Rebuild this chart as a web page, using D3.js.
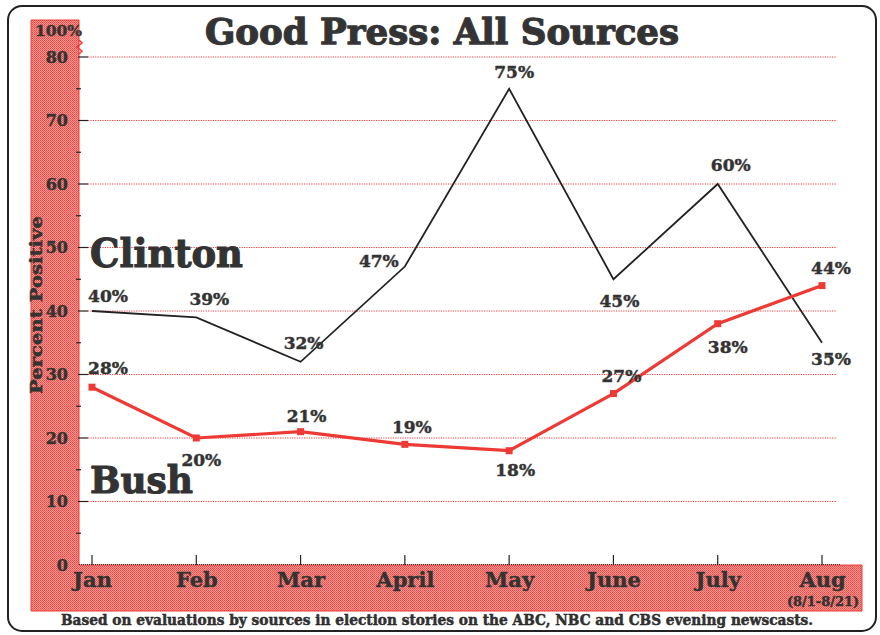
<!DOCTYPE html>
<html><head><meta charset="utf-8">
<script src="https://cdn.jsdelivr.net/npm/d3@7/dist/d3.min.js"></script>
<style>
html,body{margin:0;padding:0;background:#fff;}
svg{display:block;}
text{font-family:"DejaVu Serif",serif;font-weight:bold;fill:#333;stroke:#333;stroke-width:0.45px;}
</style></head>
<body>
<svg id="c" width="880" height="635"></svg>
<script>
const months = ["Jan","Feb","Mar","April","May","June","July","Aug"];
const clinton = [40,39,32,47,75,45,60,35];
const bush = [28,20,21,19,18,27,38,44];
const yTicks = [0,10,20,30,40,50,60,70,80];
const title = "Good Press: All Sources";
const yTitle = "Percent Positive";
const footer = "Based on evaluations by sources in election stories on the ABC, NBC and CBS evening newscasts.";
const augNote = "(8/1-8/21)";

// label placement offsets (layout only)
const clintonOff = [[16,-9],[13,-12],[3,-13],[-26,0],[5,-11],[6,28],[13,-13],[9,22]];
const bushOff = [[16,-13],[5,28],[6,-10],[7,-11],[6,25],[8,-12],[10,29],[9,-12]];

const svg = d3.select("#c");
const x = d3.scalePoint().domain(months).range([92,822]);
const y = d3.scaleLinear().domain([0,80]).range([565,57]);

const bandEdge = "#ee3a35";
// halftone pattern
const defs = svg.append("defs");
const pat = defs.append("pattern").attr("id","ht").attr("width",2).attr("height",2).attr("patternUnits","userSpaceOnUse");
pat.append("rect").attr("width",2).attr("height",2).attr("fill","#f59894");
pat.append("rect").attr("width",1).attr("height",1).attr("fill","#ea4540");
pat.append("rect").attr("x",1).attr("y",1).attr("width",1).attr("height",1).attr("fill","#ee5c57");

// outer border
svg.append("rect").attr("x",8).attr("y",6).attr("width",868).attr("height",625).attr("rx",14)
  .attr("fill","#fff").attr("stroke","#222").attr("stroke-width",2);

// bands
svg.append("rect").attr("x",31).attr("y",20).attr("width",48).attr("height",591).attr("fill","url(#ht)");
svg.append("rect").attr("x",31).attr("y",565).attr("width",831).attr("height",46).attr("fill","url(#ht)");
svg.append("path").attr("d","M31,20 H79 V565 H862 V611 H31 Z").attr("fill","none").attr("stroke",bandEdge).attr("stroke-width",1);

// gridlines
svg.append("g").selectAll("line").data(yTicks.filter(d=>d>0)).join("line")
  .attr("x1",88).attr("x2",837).attr("y1",d=>y(d)).attr("y2",d=>y(d))
  .attr("stroke","#e8413c").attr("stroke-width",1).attr("stroke-dasharray","1.2,1.2");

// y axis
const yAxis = d3.axisLeft(y).tickValues(yTicks).tickSize(0).tickPadding(11);
const yg = svg.append("g").attr("transform","translate(79,0)").call(yAxis);
yg.select(".domain").remove();
yg.selectAll("text").attr("font-size",16).attr("fill","#333").attr("font-family","DejaVu Serif").attr("font-weight","bold");
// major ticks
svg.append("g").selectAll("line").data(yTicks.filter(d=>d>0)).join("line")
  .attr("x1",78).attr("x2",88).attr("y1",d=>y(d)).attr("y2",d=>y(d)).attr("stroke","#222").attr("stroke-width",1.2);
// minor ticks
svg.append("g").selectAll("line").data(d3.range(5,80,10)).join("line")
  .attr("x1",76).attr("x2",81).attr("y1",d=>y(d)).attr("y2",d=>y(d)).attr("stroke","#222").attr("stroke-width",1.2);
// 100% label and break mark
svg.append("text").attr("x",35).attr("y",36).attr("font-size",15.5).text("100%");
svg.append("path").attr("d","M79,40 L82,43 L77,47 L82,51 L79,54").attr("fill","none").attr("stroke",bandEdge).attr("stroke-width",1.5);

// x axis
const xAxis = d3.axisBottom(x).tickSize(0).tickPadding(0);
const xg = svg.append("g").attr("transform","translate(0,565)").call(xAxis);
xg.select(".domain").remove();
xg.selectAll("text").attr("font-size",21).attr("fill","#333").attr("font-family","DejaVu Serif").attr("font-weight","bold")
  .attr("y",22).attr("dy",0);
svg.append("line").attr("x1",79).attr("x2",840).attr("y1",564.5).attr("y2",564.5)
  .attr("stroke","#333").attr("stroke-width",1).attr("stroke-dasharray","1,1");
svg.append("g").selectAll("line").data(months).join("line")
  .attr("x1",d=>x(d)).attr("x2",d=>x(d)).attr("y1",555).attr("y2",565).attr("stroke","#222").attr("stroke-width",1.2);
svg.append("text").attr("x",x("Aug")+1).attr("y",606).attr("text-anchor","middle").attr("font-size",12.5)
  .attr("textLength",72).attr("lengthAdjust","spacingAndGlyphs").text(augNote);

// title
svg.append("text").attr("x",442).attr("y",44).attr("text-anchor","middle").attr("font-size",36)
  .attr("textLength",474).attr("lengthAdjust","spacingAndGlyphs").attr("fill","#383838").style("stroke","#383838").style("stroke-width","1.3px").text(title);

// y title
svg.append("text").attr("transform","translate(42,305) rotate(-90)").attr("text-anchor","middle")
  .attr("font-size",17).attr("textLength",178).attr("lengthAdjust","spacingAndGlyphs").text(yTitle);

// lines
const line = d3.line().x((d,i)=>x(months[i])).y(d=>y(d));
svg.append("path").datum(clinton).attr("d",line).attr("fill","none").attr("stroke","#222").attr("stroke-width",1.8).attr("stroke-linejoin","miter");
svg.append("path").datum(bush).attr("d",line).attr("fill","none").attr("stroke","#ee3a35").attr("stroke-width",3.2);
svg.append("g").selectAll("rect").data(bush).join("rect")
  .attr("x",(d,i)=>x(months[i])-3.5).attr("y",d=>y(d)-3.5).attr("width",7).attr("height",7).attr("fill","#ee3a35");

// value labels
svg.append("g").selectAll("text").data(clinton).join("text")
  .attr("x",(d,i)=>x(months[i])+clintonOff[i][0]).attr("y",(d,i)=>y(d)+clintonOff[i][1])
  .attr("text-anchor","middle").attr("font-size",17).text(d=>d+"%");
svg.append("g").selectAll("text").data(bush).join("text")
  .attr("x",(d,i)=>x(months[i])+bushOff[i][0]).attr("y",(d,i)=>y(d)+bushOff[i][1])
  .attr("text-anchor","middle").attr("font-size",17).text(d=>d+"%");

// series names
svg.append("text").attr("x",90).attr("y",267).attr("font-size",40).attr("textLength",153).attr("lengthAdjust","spacingAndGlyphs")
  .style("stroke-width","1.1px").text("Clinton");
svg.append("text").attr("x",90).attr("y",493).attr("font-size",38).attr("textLength",103).attr("lengthAdjust","spacingAndGlyphs")
  .style("stroke-width","1.1px").text("Bush");

// footer
svg.append("text").attr("x",437).attr("y",625).attr("text-anchor","middle").attr("font-size",14)
  .attr("textLength",752).attr("lengthAdjust","spacingAndGlyphs").attr("fill","#222").style("stroke","#222").text(footer);
</script>
</body></html>
